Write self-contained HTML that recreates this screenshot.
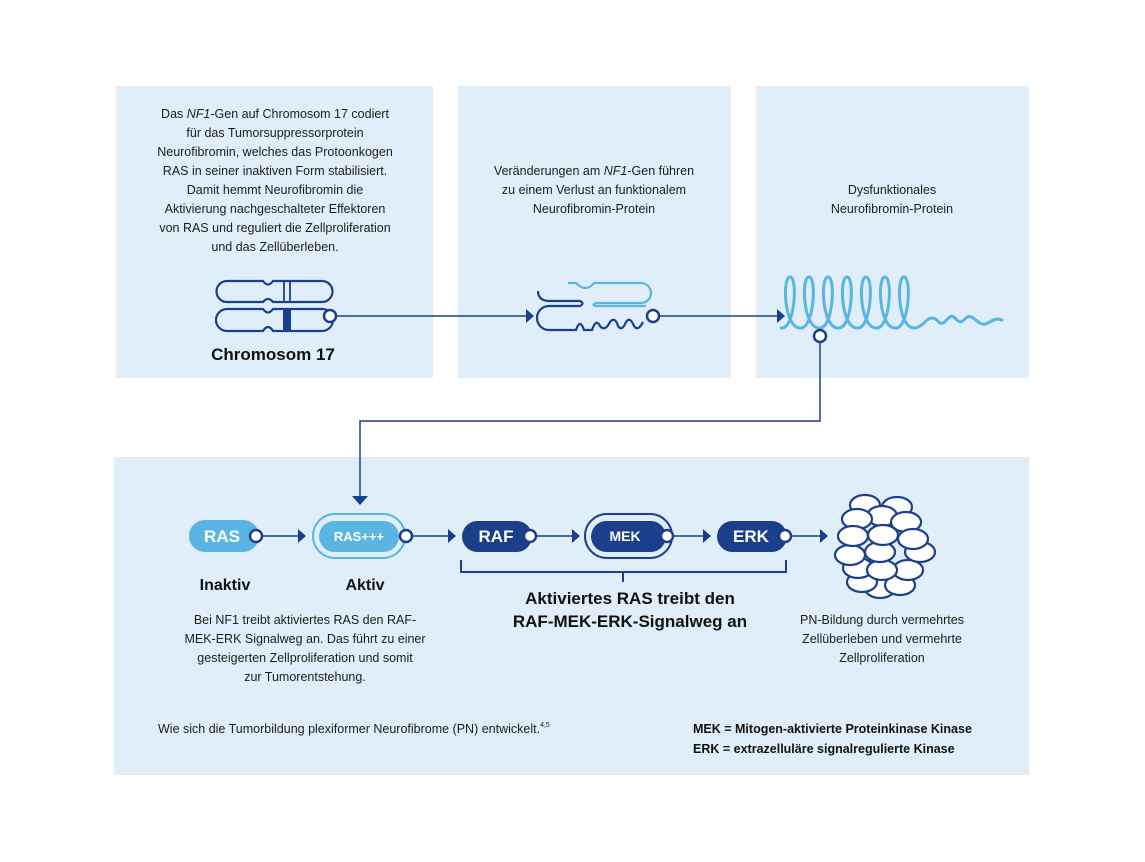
<!DOCTYPE html>
<html><head><meta charset="utf-8"><style>
html,body{margin:0;padding:0;background:#fff;}
svg{display:block;font-family:"Liberation Sans",sans-serif;}
.t{font-size:12.5px;fill:#1d1d1b;text-anchor:middle;}
.b{font-weight:bold;fill:#111;text-anchor:middle;}
</style></head><body>
<svg width="1145" height="862" viewBox="0 0 1145 862" xmlns="http://www.w3.org/2000/svg">
<rect width="1145" height="862" fill="#fff"/>
<g fill="#dfeef8">
<rect x="116" y="86" width="317" height="292"/>
<rect x="458" y="86" width="273" height="292"/>
<rect x="756" y="86" width="273" height="292"/>
<rect x="114" y="457" width="915" height="318"/>
</g>
<g class="t">
<text x="275" y="118">Das <tspan font-style="italic">NF1</tspan>-Gen auf Chromosom 17 codiert</text>
<text x="275" y="137">für das Tumorsuppressorprotein</text>
<text x="275" y="156">Neurofibromin, welches das Protoonkogen</text>
<text x="275" y="175">RAS in seiner inaktiven Form stabilisiert.</text>
<text x="275" y="194">Damit hemmt Neurofibromin die</text>
<text x="275" y="213">Aktivierung nachgeschalteter Effektoren</text>
<text x="275" y="232">von RAS und reguliert die Zellproliferation</text>
<text x="275" y="251">und das Zellüberleben.</text>
<text x="594" y="175">Veränderungen am <tspan font-style="italic">NF1</tspan>-Gen führen</text>
<text x="594" y="194">zu einem Verlust an funktionalem</text>
<text x="594" y="213">Neurofibromin-Protein</text>
<text x="892" y="194">Dysfunktionales</text>
<text x="892" y="213">Neurofibromin-Protein</text>
</g>
<text class="b" x="273" y="360" font-size="17">Chromosom 17</text>
<!-- chromosome -->
<g fill="none" stroke="#1b3f8b" stroke-width="2.2">
<path d="M227 281 H263 Q268 288 273 281 H322 A10.5 10.5 0 0 1 322 302 H273 Q268 296 263 302 H227 A10.5 10.5 0 0 1 227 281Z"/>
<path d="M227 309 H263 Q268 316 273 309 H322 A10.5 10.5 0 0 1 322 331 H273 Q268 323 263 331 H227 A10.5 10.5 0 0 1 227 309Z"/>
<line x1="284" y1="281" x2="284" y2="302" stroke-width="1.8"/>
<line x1="290" y1="281" x2="290" y2="302" stroke-width="1.8"/>
</g>
<rect x="283" y="309" width="8" height="22" fill="#1b3f8b"/>
<!-- mutated -->
<g fill="none" stroke-width="2.2">
<path d="M538 291 Q538 300 548 301 H580 Q585 303.5 580 306 H549 A12 12 0 0 0 549 330 H576 Q580 318 584 330 H592 Q596 318 600 326 Q605 332 610 322 Q615 316 618 326 Q622 332 626 322 Q630 316 634 326 Q638 332 643 322" stroke="#1b3f8b"/>
<path d="M568 283 H576 Q586 293 594 283 H641 A10 10 0 0 1 641 303 H596 Q591 305 596 306 H646" stroke="#5bb5e3"/>
</g>
<!-- spring -->
<path d="M781 328 C795 330 798 277 790 277 C782 277 784 328 800 328 C814 330 817 277 809 277 C801 277 803 328 819 328 C833 330 836 277 828 277 C820 277 822 328 838 328 C852 330 855 277 847 277 C839 277 841 328 857 328 C871 330 874 277 866 277 C858 277 860 328 876 328 C890 330 893 277 885 277 C877 277 879 328 895 328 C909 330 912 277 904 277 C896 277 898 328 914 328 C922 328 926 318 932 318 C938 318 938 325 943 323 C948 320 950 313 955 318 C960 324 962 322 966 318 C972 312 978 326 985 324 C992 322 995 317 1002 320" fill="none" stroke="#5bb5e3" stroke-width="3" stroke-linecap="round"/>
<g stroke="#1b3f8b" stroke-width="1.5" fill="none">
<line x1="336" y1="316" x2="528" y2="316"/>
<line x1="659" y1="316" x2="778" y2="316"/>
<polyline points="820,342 820,421 360,421 360,498"/>
</g>
<g fill="#1b3f8b">
<polygon points="526,309 534,316 526,323"/>
<polygon points="777,309 785,316 777,323"/>
<polygon points="352,496 368,496 360,505"/>
</g>
<g fill="#fff" stroke="#1b3f8b" stroke-width="2.5">
<circle cx="330" cy="316" r="6"/>
<circle cx="653" cy="316" r="6"/>
<circle cx="820" cy="336" r="6"/>
</g>
<rect x="189" y="520" width="70" height="32" rx="16" fill="#5bb5e3"/>
<rect x="313" y="514" width="92" height="44" rx="22" fill="none" stroke="#5bb5e3" stroke-width="2"/>
<rect x="319" y="521" width="80" height="31" rx="15.5" fill="#5bb5e3"/>
<rect x="462" y="521" width="70" height="31" rx="15.5" fill="#1b3f8b"/>
<rect x="585" y="514" width="87" height="44" rx="22" fill="none" stroke="#1b3f8b" stroke-width="2"/>
<rect x="591" y="521" width="75" height="31" rx="15.5" fill="#1b3f8b"/>
<rect x="717" y="521" width="70" height="31" rx="15.5" fill="#1b3f8b"/>
<g fill="#fff" font-weight="bold" text-anchor="middle">
<text x="222" y="542" font-size="17">RAS</text>
<text x="359" y="541" font-size="13">RAS+++</text>
<text x="496" y="542" font-size="17">RAF</text>
<text x="625" y="541" font-size="14">MEK</text>
<text x="751" y="542" font-size="17">ERK</text>
</g>
<g stroke="#1b3f8b" stroke-width="1.5" fill="none">
<line x1="262" y1="536" x2="300" y2="536"/>
<line x1="412" y1="536" x2="450" y2="536"/>
<line x1="536" y1="536" x2="574" y2="536"/>
<line x1="673" y1="536" x2="705" y2="536"/>
<line x1="791" y1="536" x2="822" y2="536"/>
<polyline points="461,560 461,572 786,572 786,560" stroke-width="2"/>
<line x1="623" y1="572" x2="623" y2="582" stroke-width="2"/>
</g>
<g fill="#1b3f8b">
<polygon points="298,529 306,536 298,543"/>
<polygon points="448,529 456,536 448,543"/>
<polygon points="572,529 580,536 572,543"/>
<polygon points="703,529 711,536 703,543"/>
<polygon points="820,529 828,536 820,543"/>
</g>
<g fill="#fff" stroke="#1b3f8b" stroke-width="2.5">
<circle cx="256" cy="536" r="6"/>
<circle cx="406" cy="536" r="6"/>
<circle cx="530" cy="536" r="6"/>
<circle cx="667" cy="536" r="6"/>
<circle cx="785" cy="536" r="6"/>
</g>
<g fill="#fff" stroke="#1b3f8b" stroke-width="2.2">
<ellipse cx="880" cy="588" rx="15" ry="10"/>
<ellipse cx="862" cy="582" rx="15" ry="10"/>
<ellipse cx="900" cy="585" rx="15" ry="10"/>
<ellipse cx="858" cy="568" rx="15" ry="10"/>
<ellipse cx="908" cy="570" rx="15" ry="10"/>
<ellipse cx="882" cy="570" rx="15" ry="10"/>
<ellipse cx="850" cy="555" rx="15" ry="10"/>
<ellipse cx="920" cy="552" rx="15" ry="10"/>
<ellipse cx="865" cy="505" rx="15" ry="10"/>
<ellipse cx="897" cy="507" rx="15" ry="10"/>
<ellipse cx="882" cy="516" rx="15" ry="10"/>
<ellipse cx="857" cy="519" rx="15" ry="10"/>
<ellipse cx="906" cy="522" rx="15" ry="10"/>
<ellipse cx="853" cy="536" rx="15" ry="10"/>
<ellipse cx="880" cy="552" rx="15" ry="10"/>
<ellipse cx="883" cy="535" rx="15" ry="10"/>
<ellipse cx="913" cy="539" rx="15" ry="10"/>
</g>
<text class="b" x="225" y="590" font-size="16">Inaktiv</text>
<text class="b" x="365" y="590" font-size="16">Aktiv</text>
<text class="b" x="630" y="604" font-size="17">Aktiviertes RAS treibt den</text>
<text class="b" x="630" y="627" font-size="17">RAF-MEK-ERK-Signalweg an</text>
<g class="t">
<text x="305" y="624">Bei NF1 treibt aktiviertes RAS den RAF-</text>
<text x="305" y="643">MEK-ERK Signalweg an. Das führt zu einer</text>
<text x="305" y="662">gesteigerten Zellproliferation und somit</text>
<text x="305" y="681">zur Tumorentstehung.</text>
<text x="882" y="624">PN-Bildung durch vermehrtes</text>
<text x="882" y="643">Zellüberleben und vermehrte</text>
<text x="882" y="662">Zellproliferation</text>
</g>
<text x="158" y="733" font-size="12.5" fill="#1d1d1b">Wie sich die Tumorbildung plexiformer Neurofibrome (PN) entwickelt.<tspan font-size="7" dy="-6">4,5</tspan></text>
<text x="693" y="733" font-size="12.5" font-weight="bold" fill="#111">MEK = Mitogen-aktivierte Proteinkinase Kinase</text>
<text x="693" y="753" font-size="12.5" font-weight="bold" fill="#111">ERK = extrazelluläre signalregulierte Kinase</text>
</svg>
</body></html>
